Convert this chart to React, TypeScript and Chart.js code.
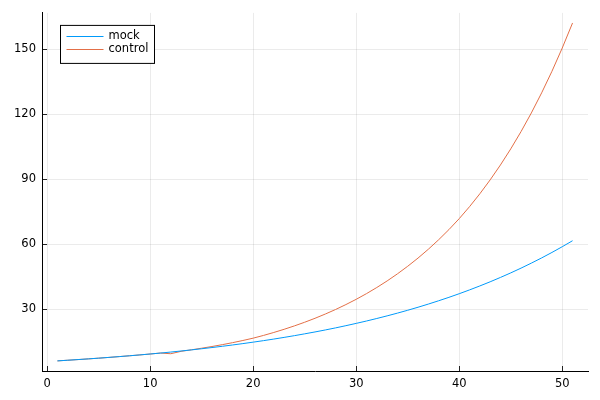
import React, { useEffect, useRef } from "react";
import { Chart, registerables } from "chart.js";

Chart.register(...registerables);

const xValues = [
  1, 2, 3, 4, 5, 6, 7, 8, 9, 10, 11, 12, 13, 14, 15, 16, 17, 18, 19, 20, 21, 22, 23, 24, 25, 26,
  27, 28, 29, 30, 31, 32, 33, 34, 35, 36, 37, 38, 39, 40, 41, 42, 43, 44, 45, 46, 47, 48, 49, 50, 51,
];

const mockValues = [
  6.2, 6.49, 6.8, 7.12, 7.45, 7.8, 8.17, 8.55, 8.95, 9.37, 9.81, 10.27, 10.76, 11.26, 11.79, 12.35,
  12.93, 13.53, 14.17, 14.84, 15.53, 16.26, 17.03, 17.83, 18.67, 19.54, 20.46, 21.42, 22.43, 23.49,
  24.59, 25.75, 26.96, 28.22, 29.55, 30.94, 32.39, 33.92, 35.51, 37.18, 38.93, 40.76, 42.67, 44.68,
  46.78, 48.98, 51.28, 53.69, 56.21, 58.86, 61.62,
];

const controlValues = [
  6.2, 6.49, 6.8, 7.12, 7.45, 7.8, 8.17, 8.55, 8.95, 9.37, 9.81, 9.5, 10.6, 11.3, 12.04, 12.83,
  13.68, 14.6, 15.6, 16.68, 17.94, 19.3, 20.76, 22.33, 24.02, 25.84, 27.8, 29.9, 32.17, 34.6, 37.22,
  40.04, 43.07, 46.33, 49.84, 53.62, 57.68, 62.05, 66.75, 71.81, 77.32, 83.27, 89.67, 96.55, 103.97,
  111.96, 120.55, 129.82, 139.77, 150.5, 162.06,
];

const seriesLabels = ["mock", "control"];
const seriesColors = ["#009AFA", "#E36F47"];
const xTickValues = [0, 10, 20, 30, 40, 50];
const yTickValues = [30, 60, 90, 120, 150];

const FONT = "'DejaVu Sans', sans-serif";

const tickMarksPlugin = {
  id: "tickMarks",
  afterDatasetsDraw(chart: any) {
    const { ctx, chartArea, scales } = chart;
    ctx.save();
    ctx.strokeStyle = "rgba(0,0,0,0.85)";
    ctx.lineWidth = 1;
    ctx.beginPath();
    for (const v of xTickValues) {
      const px = Math.round(scales.x.getPixelForValue(v)) + 0.5;
      ctx.moveTo(px, chartArea.bottom);
      ctx.lineTo(px, chartArea.bottom - 5);
    }
    for (const v of yTickValues) {
      const py = Math.round(scales.y.getPixelForValue(v)) + 0.5;
      ctx.moveTo(chartArea.left, py);
      ctx.lineTo(chartArea.left + 5, py);
    }
    ctx.stroke();
    ctx.restore();
  },
};

const legendBoxPlugin = {
  id: "legendBox",
  afterDraw(chart: any) {
    const { ctx, chartArea } = chart;
    const x0 = chartArea.left + 18.5;
    const y0 = chartArea.top + 12.5;
    const w = 94;
    const h = 38;
    ctx.save();
    ctx.fillStyle = "#ffffff";
    ctx.fillRect(x0, y0, w, h);
    ctx.strokeStyle = "#000000";
    ctx.lineWidth = 1;
    ctx.strokeRect(x0, y0, w, h);
    seriesLabels.forEach((label, i) => {
      const ly = Math.round(y0 + 11 + i * 13) + 0.5;
      ctx.beginPath();
      ctx.strokeStyle = seriesColors[i];
      ctx.lineWidth = 1;
      ctx.moveTo(x0 + 6, ly);
      ctx.lineTo(x0 + 43, ly);
      ctx.stroke();
      ctx.fillStyle = "#000000";
      ctx.font = `11.5px ${FONT}`;
      ctx.textBaseline = "middle";
      ctx.textAlign = "left";
      ctx.fillText(label, x0 + 48, ly);
    });
    ctx.restore();
  },
};

export default function App() {
  const canvasRef = useRef<HTMLCanvasElement | null>(null);

  useEffect(() => {
    if (!canvasRef.current) return;
    const datasets = [mockValues, controlValues].map((vals, i) => ({
      label: seriesLabels[i],
      data: xValues.map((x, j) => ({ x, y: vals[j] })),
      borderColor: seriesColors[i],
      backgroundColor: seriesColors[i],
      borderWidth: 1,
      pointRadius: 0,
      tension: 0,
      fill: false,
    }));

    const chart = new Chart(canvasRef.current, {
      type: "line",
      data: { datasets },
      options: {
        animation: false,
        responsive: false,
        devicePixelRatio: 1,
        layout: { padding: { top: 12, right: 12, left: 0, bottom: 0 } },
        plugins: {
          legend: { display: false },
          tooltip: { enabled: false },
        },
        scales: {
          x: {
            type: "linear",
            min: -0.5,
            max: 52.5,
            afterBuildTicks: (s: any) => {
              s.ticks = xTickValues.map((v) => ({ value: v }));
            },
            afterFit: (s: any) => {
              s.height = 29;
            },
            grid: { color: "rgba(0,0,0,0.08)", drawTicks: false, lineWidth: 1 },
            border: { display: true, color: "#000000", width: 1 },
            ticks: {
              padding: 6,
              color: "#000000",
              font: { family: FONT, size: 11.5 },
              maxRotation: 0,
              autoSkip: false,
            },
          },
          y: {
            type: "linear",
            min: 1.53,
            max: 166.7,
            afterBuildTicks: (s: any) => {
              s.ticks = yTickValues.map((v) => ({ value: v }));
            },
            afterFit: (s: any) => {
              s.width = 42;
            },
            grid: { color: "rgba(0,0,0,0.08)", drawTicks: false, lineWidth: 1 },
            border: { display: true, color: "#000000", width: 1 },
            ticks: {
              padding: 6,
              color: "#000000",
              font: { family: FONT, size: 11.5 },
              autoSkip: false,
            },
          },
        },
      },
      plugins: [tickMarksPlugin, legendBoxPlugin],
    });
    return () => chart.destroy();
  }, []);

  return (
    <div style={{ position: "absolute", left: 0, top: 0, width: 600, height: 400, background: "#fff" }}>
      <canvas ref={canvasRef} width={600} height={400} style={{ width: 600, height: 400 }} />
    </div>
  );
}
